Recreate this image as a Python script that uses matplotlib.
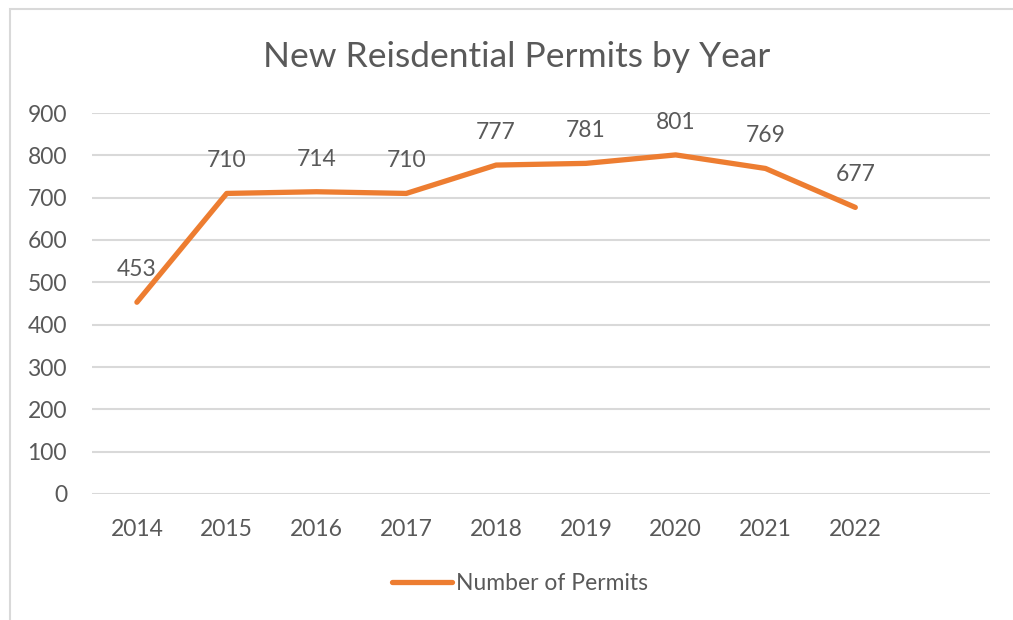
import matplotlib
matplotlib.use("Agg")
import matplotlib.pyplot as plt
from matplotlib.patches import Rectangle

years = ["2014", "2015", "2016", "2017", "2018", "2019", "2020", "2021", "2022"]
permits = [453, 710, 714, 710, 777, 781, 801, 769, 677]
series_name = "Number of Permits"
title = "New Reisdential Permits by Year"
yticks = [0, 100, 200, 300, 400, 500, 600, 700, 800, 900]

plt.rcParams['font.family'] = ['Lato', 'DejaVu Sans']
TEXT = "#595959"
ORANGE = "#ED7D31"
GRID = "#D9D9D9"

fig = plt.figure(figsize=(10.13, 6.2), dpi=100)
fig.patches.append(Rectangle((10/1013, -0.1), 1.2, 1 - 9/620 + 0.1, transform=fig.transFigure,
                             fill=False, edgecolor="#D9D9D9", linewidth=1.5))
ax = fig.add_axes([92/1013, 126/620, (990-92)/1013, (494-113)/620])

x = list(range(len(years)))
line, = ax.plot(x, permits, color=ORANGE, linewidth=3.8, solid_capstyle="round",
                solid_joinstyle="round", label=series_name, zorder=3)
for xi, v in zip(x, permits):
    ax.annotate(str(v), (xi, v), xytext=(0, 16), textcoords="offset points",
                ha="center", va="bottom", fontsize=16.5, color=TEXT)

ax.set_xlim(-0.5, 9.5)
ax.set_ylim(0, 900)
ax.set_yticks(yticks)
ax.set_yticklabels([str(t) for t in yticks])
ax.set_xticks(x)
ax.set_xticklabels(years)
ax.tick_params(axis="both", length=0, labelsize=16.5, labelcolor=TEXT)
ax.tick_params(axis="x", pad=18)
ax.tick_params(axis="y", pad=18)
ax.grid(axis="y", color=GRID, linewidth=1.5)
ax.set_axisbelow(True)
for s in ax.spines.values():
    s.set_visible(False)

fig.text(517/1013, 1 - 57/620, title, ha="center", va="center", fontsize=25.5, color=TEXT)

leg = fig.legend(handles=[line], loc="center", bbox_to_anchor=(520/1013, 1 - 584/620),
                 frameon=False, fontsize=16.5, labelcolor=TEXT, handlelength=2.6,
                 handletextpad=0.15)

fig.savefig("out.png", dpi=100)
